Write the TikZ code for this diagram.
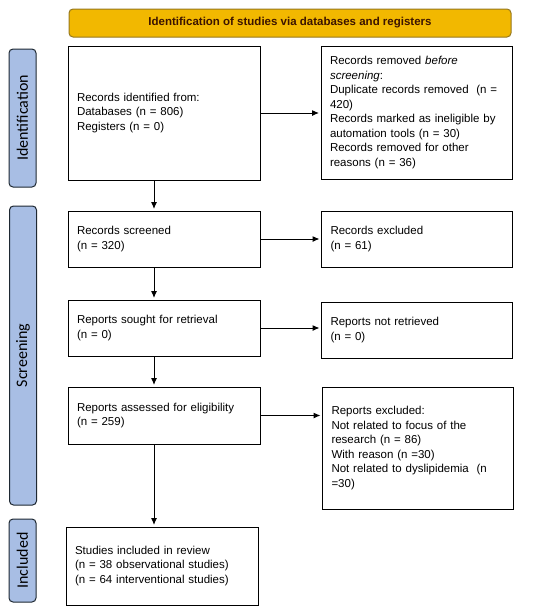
\documentclass[tikz,border=0pt]{standalone}
\usepackage{fontspec}
\setmainfont{Liberation Sans}
\newfontfamily\sidefont{Carlito}
\usetikzlibrary{arrows.meta}
\definecolor{headfill}{RGB}{242,184,0}
\definecolor{headdraw}{RGB}{150,120,30}
\definecolor{headtext}{RGB}{60,20,0}
\definecolor{sidefill}{RGB}{168,190,228}
\definecolor{sidedraw}{RGB}{30,40,50}
\begin{document}
\begin{tikzpicture}[x=1pt,y=-1pt,
        font=\fontsize{11.5}{14.5}\selectfont,
        box/.style={draw,line width=1pt,align=left,inner xsep=9pt,inner ysep=3pt,outer sep=0pt},
        lbox/.style={box,text width=174pt,minimum width=192pt},
        rbox/.style={box,text width=173pt,minimum width=191pt},
        side/.style={draw=sidedraw,fill=sidefill,line width=1pt,rounded corners=4pt,rotate=90,
            minimum height=27pt,inner sep=0pt,font=\sidefont\fontsize{16}{19}\selectfont},
        head/.style={draw=headdraw,fill=headfill,line width=1pt,rounded corners=4pt,
            minimum width=442pt,minimum height=28pt,text=headtext,
            font=\bfseries\fontsize{11.5}{14}\selectfont},
        link/.style={line width=1pt,shorten >=2pt,-{Latex[length=7pt,width=6pt]}}]
        \useasboundingbox (0,0) rectangle (550,611);
        % Header
        \node[head] (hd) at (290,23) {Identification of studies via databases and registers};
        % Phase bars
        \node[side,minimum width=138pt] (s1) at (22.5,118) {Identification};
        \node[side,minimum width=299pt] (s2) at (23,355.5) {Screening};
        \node[side,minimum width=83pt] (s3) at (22.5,560.5) {Included};
        % Left column
        \node[lbox,minimum height=134pt] (idf) at (164,113) {Records identified from:\\Databases (n = 806)\\Registers (n = 0)};
        \node[lbox,minimum height=56pt] (scr) at (164,239) {Records screened\\(n = 320)};
        \node[lbox,minimum height=56pt] (sgt) at (164,328) {Reports sought for retrieval\\(n = 0)};
        \node[lbox,minimum height=57pt] (ase) at (164,415.5) {Reports assessed for eligibility\\(n = 259)};
        \node[lbox,minimum height=78pt] (inc) at (162,566) {Studies included in review\\(n = 38 observational studies)\\(n = 64 interventional studies)};
        % Right column
        \node[rbox,minimum height=133pt] (rem) at (416.5,112.5) {Records removed \textit{before}\\\textit{screening}:\\Duplicate records removed\ \ (n =\\420)\\Records marked as ineligible by\\automation tools (n = 30)\\Records removed for other\\reasons (n = 36)};
        \node[rbox,minimum height=56pt] (exc) at (417,239) {Records excluded\\(n = 61)};
        \node[rbox,minimum height=56pt] (nrt) at (417,330) {Reports not retrieved\\(n = 0)};
        \node[rbox,minimum height=122pt] (rex) at (418,448) {Reports excluded:\\Not related to focus of the\\research (n = 86)\\With reason (n =30)\\Not related to dyslipidemia\ \ (n\\=30)};
        % Arrows
        \draw[link] (idf.east) -- (idf.east -| rem.west);
        \draw[link] (scr.east) -- (scr.east -| exc.west);
        \draw[link] (sgt.east) -- (sgt.east -| nrt.west);
        \draw[link] (ase.east) -- (ase.east -| rex.west);
        \draw[link] ([xshift=-10pt]idf.south) -- ([xshift=-10pt]scr.north);
        \draw[link] ([xshift=-10pt]scr.south) -- ([xshift=-10pt]sgt.north);
        \draw[link] ([xshift=-10pt]sgt.south) -- ([xshift=-10pt]ase.north);
        \draw[link] ([xshift=-10pt]ase.south) -- ([xshift=-10pt]ase.south |- inc.north);
\end{tikzpicture}
\end{document}
